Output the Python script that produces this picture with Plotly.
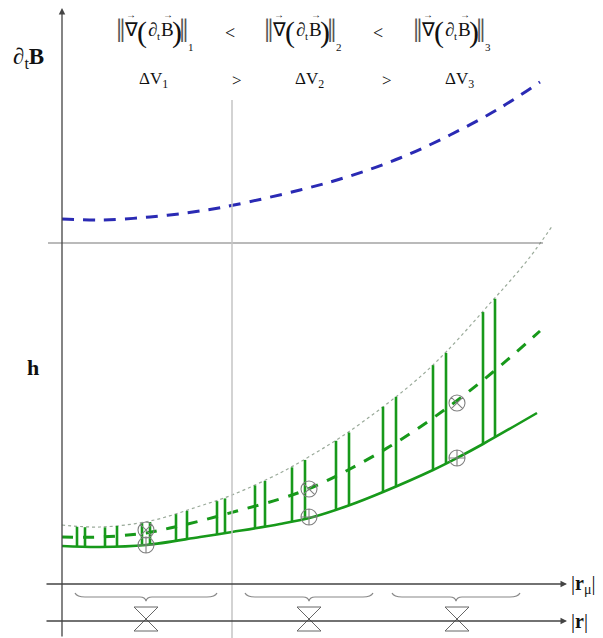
import numpy as np
import plotly.graph_objects as go

# Chart units: r = position along |r| axis, vertical = value above baseline
r_blue = [62, 100, 150, 200, 234, 300, 350, 400, 450, 500, 540]
dB_blue = [419, 418, 421, 427, 433, 448, 462, 480, 503, 530, 556]

r_upper = [62, 100, 150, 200, 232, 280, 300, 347, 413, 447, 493, 510, 530, 553]
h_upper = [113, 111, 117, 132, 143, 165, 176, 205, 255, 287, 338, 357, 381, 413]

r_lower = [62, 100, 146, 200, 232, 280, 313, 350, 383, 433, 457, 483, 537]
h_lower = [92, 91, 93, 101, 106, 114, 121, 133, 146, 168, 180, 194, 225]

r_mid = [62, 100, 146, 170, 200, 237, 280, 313, 350, 397, 447, 493, 540]
h_mid = [101, 101, 105, 110, 117, 127, 139, 151, 169, 196, 230, 266, 307]

r_ticks = [77, 85, 105, 117, 142, 150, 176, 187, 217, 225, 255, 265,
           292, 305, 336, 349, 383, 396, 433, 446, 483, 495]

r_points = [146, 309, 457]
h_oplus = [93, 121, 180]
h_otimes = [108, 149, 235]

brace_spans = [(75, 217), (245, 373), (392, 520)]

norm_labels = ["1", "2", "3"]
dv_labels = ["1", "2", "3"]

W, H = 603, 638
BASE_DB = 395      # level of the horizontal ∂tB axis
AX_X = 62
R_MU_Y = 54
R_Y = 17
BOW_Y = 19
BRACE_Y = 41
SPLIT_X = 232

green = "#17991a"
fig = go.Figure()

fig.add_trace(go.Scatter(x=r_blue, y=dB_blue, mode="lines", line_shape="spline",
                         line=dict(color="#2a2ab4", width=3, dash="12px,9px"),
                         hoverinfo="skip"))
fig.add_trace(go.Scatter(x=r_upper, y=h_upper, mode="lines", line_shape="spline",
                         line=dict(color="#9aaa9a", width=1.2, dash="dot"),
                         hoverinfo="skip"))
vx, vy = [], []
for r in r_ticks:
    top = float(np.interp(r, r_upper, h_upper))
    bot = float(np.interp(r, r_lower, h_lower))
    vx += [r, r, None]
    vy += [top - 1, bot, None]
fig.add_trace(go.Scatter(x=vx, y=vy, mode="lines",
                         line=dict(color=green, width=2.6), hoverinfo="skip"))
fig.add_trace(go.Scatter(x=r_mid, y=h_mid, mode="lines", line_shape="spline",
                         line=dict(color=green, width=3, dash="11px,10px"),
                         hoverinfo="skip"))
fig.add_trace(go.Scatter(x=r_lower, y=h_lower, mode="lines", line_shape="spline",
                         line=dict(color=green, width=2.6), hoverinfo="skip"))
fig.add_trace(go.Scatter(x=r_points, y=h_otimes, mode="markers",
                         marker=dict(symbol="circle-x-open", size=16, color="#808080",
                                     line=dict(width=1.1)), hoverinfo="skip"))
fig.add_trace(go.Scatter(x=r_points, y=h_oplus, mode="markers",
                         marker=dict(symbol="circle-cross-open", size=16, color="#808080",
                                     line=dict(width=1.1)), hoverinfo="skip"))
fig.add_trace(go.Scatter(x=r_points, y=[BOW_Y] * 3, mode="markers",
                         marker=dict(symbol="hourglass-open", size=24, color="#666",
                                     line=dict(width=1)), hoverinfo="skip"))

shapes = []
shapes.append(dict(type="line", x0=48, x1=543, y0=BASE_DB, y1=BASE_DB,
                   line=dict(color="#777", width=1.2)))
shapes.append(dict(type="line", x0=SPLIT_X, x1=SPLIT_X, y0=0, y1=H - 100,
                   line=dict(color="#c4c4c4", width=1.5)))
for x0, x1 in brace_spans:
    xm = (x0 + x1) / 2
    y = BRACE_Y
    p = (f"M {x0},{y+4} Q {x0+2},{y} {x0+10},{y} L {xm-6},{y} "
         f"Q {xm-1},{y} {xm},{y-4} Q {xm+1},{y} {xm+6},{y} "
         f"L {x1-10},{y} Q {x1-2},{y} {x1},{y+4}")
    shapes.append(dict(type="path", path=p, line=dict(color="#888", width=1.2)))

annotations = []
def arrow(x, y, ax, ay):
    annotations.append(dict(x=x, y=y, ax=ax, ay=ay, xref="x", yref="y",
                            axref="x", ayref="y", showarrow=True, text="",
                            arrowhead=2, arrowsize=1, arrowwidth=1.3,
                            arrowcolor="#444"))
arrow(AX_X, H - 8, AX_X, 0)
arrow(567, R_MU_Y, 45, R_MU_Y)
arrow(567, R_Y, 45, R_Y)

SERIF = "Liberation Serif, Times New Roman, serif"
def txt(x, y, t, size=18, color="#111", xanchor="center"):
    annotations.append(dict(x=x, y=y, xref="x", yref="y", text=t, showarrow=False,
                            font=dict(size=size, family=SERIF, color=color),
                            xanchor=xanchor, yanchor="middle"))

# norm expressions built piece by piece
YN = H - 30
for L, lab in zip([118, 266, 415], norm_labels):
    txt(L + 3, YN, "‖", size=34, color="#555")
    txt(L + 13, YN + 1, "∇", size=19)
    txt(L + 13, H - 14, "→", size=10)
    txt(L + 24, YN - 2, "(", size=30)
    txt(L + 34, YN + 1, "∂", size=19)
    txt(L + 40, YN - 6, "t", size=11)
    txt(L + 49, YN + 1, "B", size=19)
    txt(L + 50, H - 14, "→", size=10)
    txt(L + 59, YN - 2, ")", size=30)
    txt(L + 66, YN, "‖", size=34, color="#555")
    txt(L + 73, H - 47, lab, size=11)
for cx in [230, 378]:
    txt(cx, H - 33, "&lt;", size=18)
for cx, lab in zip([153, 309, 459], dv_labels):
    txt(cx, H - 80, f"ΔV<sub>{lab}</sub>", size=17)
for cx in [237, 387]:
    txt(cx, H - 80, "&gt;", size=17)
txt(28, H - 58, "∂<sub>t</sub><b>B</b>", size=23)
txt(33, H - 367, "<b>h</b>", size=22)
txt(569, R_MU_Y, "|<b>r</b><sub>μ</sub>|", size=20, xanchor="left")
txt(569, R_Y, "|<b>r</b>|", size=20, xanchor="left")

fig.update_layout(
    width=W, height=H, margin=dict(l=0, r=0, t=0, b=0),
    paper_bgcolor="white", plot_bgcolor="white", showlegend=False,
    xaxis=dict(range=[0, W], visible=False, fixedrange=True),
    yaxis=dict(range=[0, H], visible=False, fixedrange=True),
    shapes=shapes, annotations=annotations,
)
fig.write_html("out.html", config={"displayModeBar": False},
               post_script="document.body.style.margin='0';document.body.style.overflow='hidden';")
